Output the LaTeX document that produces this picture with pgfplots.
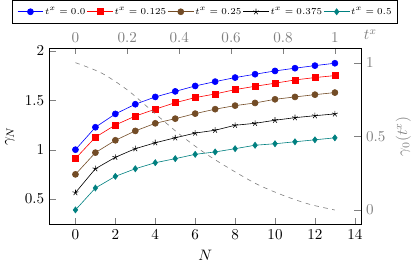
\documentclass[border=0pt]{standalone}
\usepackage{pgfplots}
\pgfplotsset{compat=1.18}
\begin{document}
\begin{tikzpicture}
\begin{axis}[
  scale only axis, width=206pt, height=117pt,
  xmin=-1.3, xmax=14.3, ymin=0.24, ymax=2.03,
  axis x line*=bottom, axis y line*=left,
  xtick={0,2,...,14}, ytick={0.5,1,1.5,2},
  xlabel={$N$}, ylabel={$\gamma_N$},
  legend columns=-1,
  legend style={font=\fontsize{6.4}{7.5}\selectfont, at={(0.5,1.138)}, anchor=south,
    nodes={inner xsep=0.9pt}, inner xsep=3pt, inner ysep=2.5pt},
]
\addplot[blue, mark=*] coordinates {
(0,1.0) (1,1.227) (2,1.362) (3,1.46) (4,1.534) (5,1.59) (6,1.645) (7,1.689)
(8,1.73) (9,1.764) (10,1.797) (11,1.825) (12,1.851) (13,1.875)};
\addlegendentry{$t^x=0.0$}
\addplot[red, mark=square*] coordinates {
(0,0.91) (1,1.126) (2,1.25) (3,1.34) (4,1.41) (5,1.476) (6,1.527) (7,1.564)
(8,1.608) (9,1.642) (10,1.673) (11,1.706) (12,1.73) (13,1.75)};
\addlegendentry{$t^x=0.125$}
\addplot[brown!60!black, mark=otimes*] coordinates {
(0,0.75) (1,0.97) (2,1.095) (3,1.19) (4,1.267) (5,1.314) (6,1.365) (7,1.41)
(8,1.446) (9,1.473) (10,1.51) (11,1.534) (12,1.557) (13,1.578)};
\addlegendentry{$t^x=0.25$}
\addplot[black, mark=star] coordinates {
(0,0.565) (1,0.807) (2,0.923) (3,1.01) (4,1.07) (5,1.12) (6,1.168) (7,1.197)
(8,1.247) (9,1.267) (10,1.298) (11,1.324) (12,1.344) (13,1.362)};
\addlegendentry{$t^x=0.375$}
\addplot[teal, mark=diamond*] coordinates {
(0,0.39) (1,0.612) (2,0.73) (3,0.807) (4,0.868) (5,0.909) (6,0.953) (7,0.977)
(8,1.01) (9,1.045) (10,1.06) (11,1.08) (12,1.10) (13,1.12)};
\addlegendentry{$t^x=0.5$}
\end{axis}
\begin{axis}[
  scale only axis, width=206pt, height=117pt,
  xmin=-0.1, xmax=1.1, ymin=-0.1, ymax=1.1,
  axis x line*=top, axis y line*=right,
  xtick={0,0.2,...,1}, ytick={0,0.5,1},
  tick label style={gray}, major tick style={gray},
  xlabel={$t^x$}, ylabel={$\gamma_0(t^x)$},
  xlabel style={gray, at={(axis description cs:1,1)}, anchor=south west, xshift=-1.5pt, yshift=2pt},
  ylabel style={gray},
]
\addplot[gray, dashed, smooth] coordinates {
(0,1.0) (0.1,0.93) (0.2,0.815) (0.3,0.665) (0.4,0.516) (0.5,0.385)
(0.6,0.275) (0.7,0.175) (0.8,0.10) (0.9,0.04) (1.0,0.0)};
\end{axis}
\end{tikzpicture}
\end{document}
